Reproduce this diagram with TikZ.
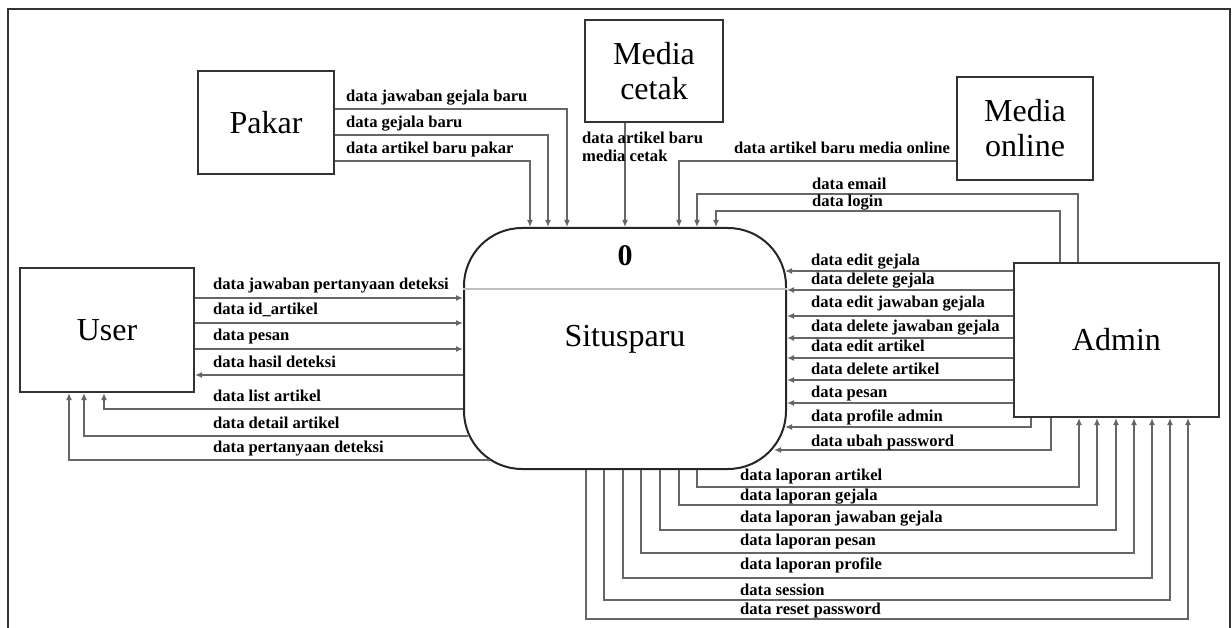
\documentclass[tikz,border=0pt]{standalone}
\usepackage{fontspec}
\setmainfont{Liberation Serif}
\usetikzlibrary{arrows.meta,positioning}
\newcommand{\bigtext}{\fontsize{32}{35}\selectfont}
\newcommand{\flowtext}{\fontsize{16.6}{18}\selectfont\bfseries}
\tikzset{
	entity/.style = {draw=black!80, line width=2pt, rectangle, align=center, font=\bigtext},
	process/.style = {draw=black!85, line width=2pt, rectangle, rounded corners=58pt},
	flow/.style = {->, draw=black!60, line width=1.4pt},
	flowlbl/.style = {font=\flowtext, anchor=base west, inner sep=0pt}
}

\begin{document}
\begin{tikzpicture}[x=1pt, y=-1pt, >={Latex[length=7pt,width=6pt]}]
	\useasboundingbox (0,0) rectangle (1232,628);
	\draw[black!80, line width=1.5pt] (8,628) -- (8,9) -- (1230,9) -- (1230,628);

	% process 0
	\node[process, minimum width=322pt, minimum height=241pt] (proc) at (625,348.5) {};
	\node[font=\bfseries\fontsize{30}{30}\selectfont, anchor=base] (num) at (625,266) {0};
	\node[font=\bigtext, anchor=base] (name) at (625,347) {Situsparu};
	\draw[black!25, line width=1.5pt] ([shift={(0,62)}]proc.north west) -- ([shift={(0,62)}]proc.north east);

	% entities
	\node[entity, minimum width=136pt, minimum height=103pt] (pakar) at (266,122.5) {Pakar};
	\node[entity, minimum width=138pt, minimum height=102pt] (cetak) at (654,71) {Media\\cetak};
	\node[entity, minimum width=136pt, minimum height=103pt] (online) at (1025,128.5) {Media\\online};
	\node[entity, minimum width=174pt, minimum height=124pt] (user) at (107,330) {User};
	\node[entity, minimum width=205pt, minimum height=154pt] (admin) at (1116.5,340) {Admin};

	% pakar and media
	\draw[flow] ([shift={(0,-13.5)}]pakar.east) -| ([shift={(-58,0)}]proc.north);
	\draw[flow] ([shift={(0,12.5)}]pakar.east) -| ([shift={(-77,0)}]proc.north);
	\draw[flow] ([shift={(0,38.5)}]pakar.east) -| ([shift={(-95,0)}]proc.north);
	\node[flowlbl] (lp1) at (346,102) {data jawaban gejala baru};
	\node[flowlbl] (lp2) at (346,128) {data gejala baru};
	\node[flowlbl] (lp3) at (346,154) {data artikel baru pakar};

	\draw[flow] (cetak.south -| proc.north) -- (proc.north);
	\node[flowlbl, anchor=north west, align=left] (lc) at (582,132) {data artikel baru\\media cetak};

	\draw[flow] ([shift={(0,32.5)}]online.west) -| ([shift={(54,0)}]proc.north);
	\node[flowlbl] (lo) at (734,154) {data artikel baru media online};

	% admin to process
	\draw[flow] ([shift={(-38.5,0)}]admin.north) |- ([shift={(72,-33)}]proc.north) -- ([shift={(72,0)}]proc.north);
	\draw[flow] ([shift={(-56.5,0)}]admin.north) |- ([shift={(91,-16)}]proc.north) -- ([shift={(91,0)}]proc.north);
	\node[flowlbl] (la1) at (812,190) {data email};
	\node[flowlbl] (la2) at (812,207) {data login};

	\draw[flow] ([shift={(0,-69)}]admin.west) -- ([shift={(-2,-77.5)}]proc.east);
	\draw[flow] ([shift={(0,-50)}]admin.west) -- ([shift={(0,-58.5)}]proc.east);
	\draw[flow] ([shift={(0,-24)}]admin.west) -- ([shift={(0,-32.5)}]proc.east);
	\draw[flow] ([shift={(0,-2)}]admin.west) -- ([shift={(0,-10.5)}]proc.east);
	\draw[flow] ([shift={(0,18)}]admin.west) -- ([shift={(0,9.5)}]proc.east);
	\draw[flow] ([shift={(0,40)}]admin.west) -- ([shift={(0,31.5)}]proc.east);
	\draw[flow] ([shift={(0,63)}]admin.west) -- ([shift={(0,54.5)}]proc.east);
	\draw[flow] ([shift={(-85.5,0)}]admin.south) |- ([shift={(-2,78.5)}]proc.east);
	\draw[flow] ([shift={(-65.5,0)}]admin.south) |- ([shift={(-13,101.5)}]proc.east);
	\node[flowlbl] (la3) at (811,266) {data edit gejala};
	\node[flowlbl] (la4) at (811,285) {data delete gejala};
	\node[flowlbl] (la5) at (811,308) {data edit jawaban gejala};
	\node[flowlbl] (la6) at (811,332) {data delete jawaban gejala};
	\node[flowlbl] (la7) at (811,352) {data edit artikel};
	\node[flowlbl] (la8) at (811,374) {data delete artikel};
	\node[flowlbl] (la9) at (811,397) {data pesan};
	\node[flowlbl] (la10) at (811,421) {data profile admin};
	\node[flowlbl] (la11) at (811,446) {data ubah password};

	% user
	\draw[flow] ([shift={(0,-32)}]user.east) -- ([shift={(0,-50.5)}]proc.west);
	\draw[flow] ([shift={(0,-7)}]user.east) -- ([shift={(0,-25.5)}]proc.west);
	\draw[flow] ([shift={(0,19)}]user.east) -- ([shift={(0,0.5)}]proc.west);
	\draw[flow] ([shift={(0,26.5)}]proc.west) -- ([shift={(0,45)}]user.east);
	\draw[flow] ([shift={(0,60.5)}]proc.west) -| ([shift={(-3,0)}]user.south);
	\draw[flow] ([shift={(5,87.5)}]proc.west) -| ([shift={(-23,0)}]user.south);
	\draw[flow] ([shift={(27,111.5)}]proc.west) -| ([shift={(-38,0)}]user.south);
	\node[flowlbl] (lu1) at (213,290) {data jawaban pertanyaan deteksi};
	\node[flowlbl] (lu2) at (213,315) {data id\_artikel};
	\node[flowlbl] (lu3) at (213,341) {data pesan};
	\node[flowlbl] (lu4) at (213,367) {data hasil deteksi};
	\node[flowlbl] (lu5) at (213,401) {data list artikel};
	\node[flowlbl] (lu6) at (213,428) {data detail artikel};
	\node[flowlbl] (lu7) at (213,452) {data pertanyaan deteksi};

	% reports to admin
	\draw[flow] ([shift={(72,0)}]proc.south) -- ++(0,17) -| ([shift={(-37.5,0)}]admin.south);
	\draw[flow] ([shift={(54,0)}]proc.south) -- ++(0,35) -| ([shift={(-19.5,0)}]admin.south);
	\draw[flow] ([shift={(35,0)}]proc.south) -- ++(0,60) -| ([shift={(-0.5,0)}]admin.south);
	\draw[flow] ([shift={(16,0)}]proc.south) -- ++(0,83) -| ([shift={(17.5,0)}]admin.south);
	\draw[flow] ([shift={(-2,0)}]proc.south) -- ++(0,108) -| ([shift={(35.5,0)}]admin.south);
	\draw[flow] ([shift={(-21,0)}]proc.south) -- ++(0,130) -| ([shift={(53.5,0)}]admin.south);
	\draw[flow] ([shift={(-39,0)}]proc.south) -- ++(0,149) -| ([shift={(71.5,0)}]admin.south);
	\node[flowlbl] (lr1) at (740,480) {data laporan artikel};
	\node[flowlbl] (lr2) at (740,500) {data laporan gejala};
	\node[flowlbl] (lr3) at (740,522) {data laporan jawaban gejala};
	\node[flowlbl] (lr4) at (740,545) {data laporan pesan};
	\node[flowlbl] (lr5) at (740,569) {data laporan profile};
	\node[flowlbl] (lr6) at (740,595) {data session};
	\node[flowlbl] (lr7) at (740,614) {data reset password};
\end{tikzpicture}
\end{document}
